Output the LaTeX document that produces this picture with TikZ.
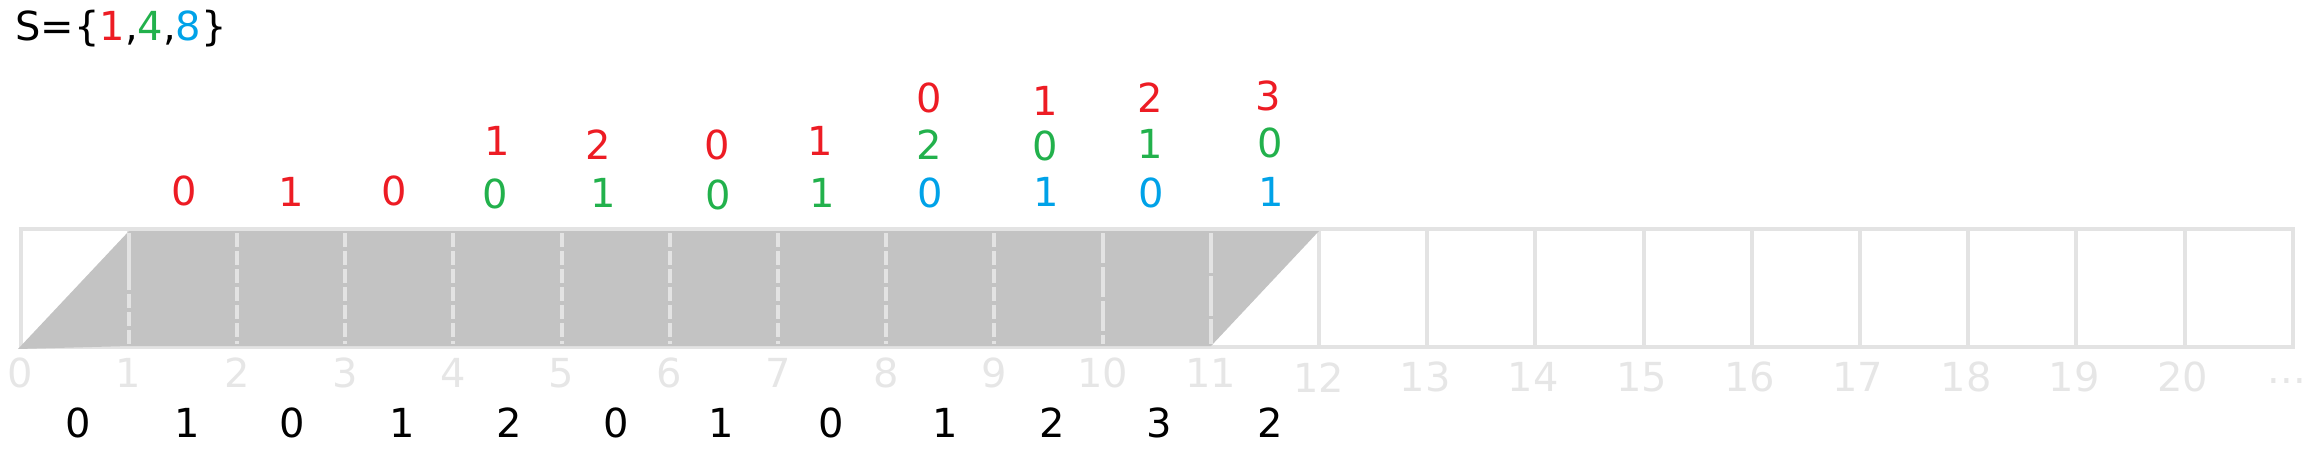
\documentclass[tikz,border=0pt]{standalone}
\usepackage{fontspec}
\setmainfont{DejaVu Sans}
\definecolor{pred}{HTML}{ED1C24}
\definecolor{pgreen}{HTML}{22B14C}
\definecolor{pblue}{HTML}{00A2E8}
\definecolor{gridc}{HTML}{E3E3E3}
\definecolor{fillc}{HTML}{C3C3C3}
\definecolor{axc}{HTML}{E6E6E6}
\begin{document}
\begin{tikzpicture}[x=1pt,y=-1pt,
  num/.style={inner sep=0pt, font=\fontsize{40}{48}\selectfont},
  axislbl/.style={num, text=axc},
  rlbl/.style={num, text=pred},
  glbl/.style={num, text=pgreen},
  blbl/.style={num, text=pblue},
  klbl/.style={num, text=black},
  gridline/.style={draw=gridc, line width=4pt},
  innerline/.style={draw=gridc, line width=4pt, dash pattern=on 14pt off 4pt},
]
\useasboundingbox (0,0) rectangle (2323,452);
% title
\node[num, anchor=base west] (title) at (15,40.5)
  {S=\{\textcolor{pred}{1},\textcolor{pgreen}{4},\textcolor{pblue}{8}\}};
% grid
\foreach \i in {0,...,21}
  \draw[gridline] (20.5+108.2*\i,229) -- (20.5+108.2*\i,347);
\draw[gridline] (18.5,229) -- (2294.7,229);
\draw[gridline] (18.5,347) -- (2294.7,347);
% filled region
\fill[fillc] (18,349) -- (129,231) -- (1319,231) -- (1211,346) -- (129,346) -- cycle;
% grid lines showing through the filled region
\draw[gridline] (20.5+108.2,233) -- (20.5+108.2,290);
\draw[innerline] (20.5+108.2,294) -- (20.5+108.2,344);
\foreach \i in {2,...,9}
  \draw[innerline] (20.5+108.2*\i,233) -- (20.5+108.2*\i,344);
\draw[innerline, dash pattern=on 30pt off 4pt] (20.5+108.2*10,233) -- (20.5+108.2*10,344);
\draw[innerline, dash pattern=on 40pt off 3pt] (20.5+108.2*11,233) -- (20.5+108.2*11,344);
% axis labels
\foreach \i in {0,...,11}
  \node[axislbl] (ax\i) at (20.5+108.2*\i,373) {\i};
\node[axislbl] (ax12) at (20.5+108.2*12,378) {12};
\foreach \i in {13,...,20}
  \node[axislbl] (ax\i) at (20.5+108.2*\i-2,377) {\i};
\node[axislbl, anchor=base] (axdots) at (2287,383) {...};
% bottom values
\foreach \xx/\v [count=\k from 0] in {78/0,187/1,292/0,402/1,509/2,616/0,721/1,831/0,945/1,1052/2,1159/3,1270/2}
  \node[klbl] (b\k) at (\xx,423) {\v};
% top values: red row
\foreach \xx/\yy/\v [count=\k from 1] in {184/191/0,291/192/1,394/191/0,497/141/1,598/145/2,717/145/0,820/141/1,929/98/0,1045/101/1,1150/98/2,1268/96/3}
  \node[rlbl] (r\k) at (\xx,\yy) {\v};
% green row
\foreach \xx/\yy/\v [count=\k from 4] in {495/194/0,603/193/1,718/195/0,822/193/1,929/145/2,1045/146/0,1150/144/1,1270/143/0}
  \node[glbl] (g\k) at (\xx,\yy) {\v};
% blue row
\foreach \xx/\yy/\v [count=\k from 8] in {930/193/0,1046/192/1,1151/193/0,1271/192/1}
  \node[blbl] (bl\k) at (\xx,\yy) {\v};
\end{tikzpicture}
\end{document}
